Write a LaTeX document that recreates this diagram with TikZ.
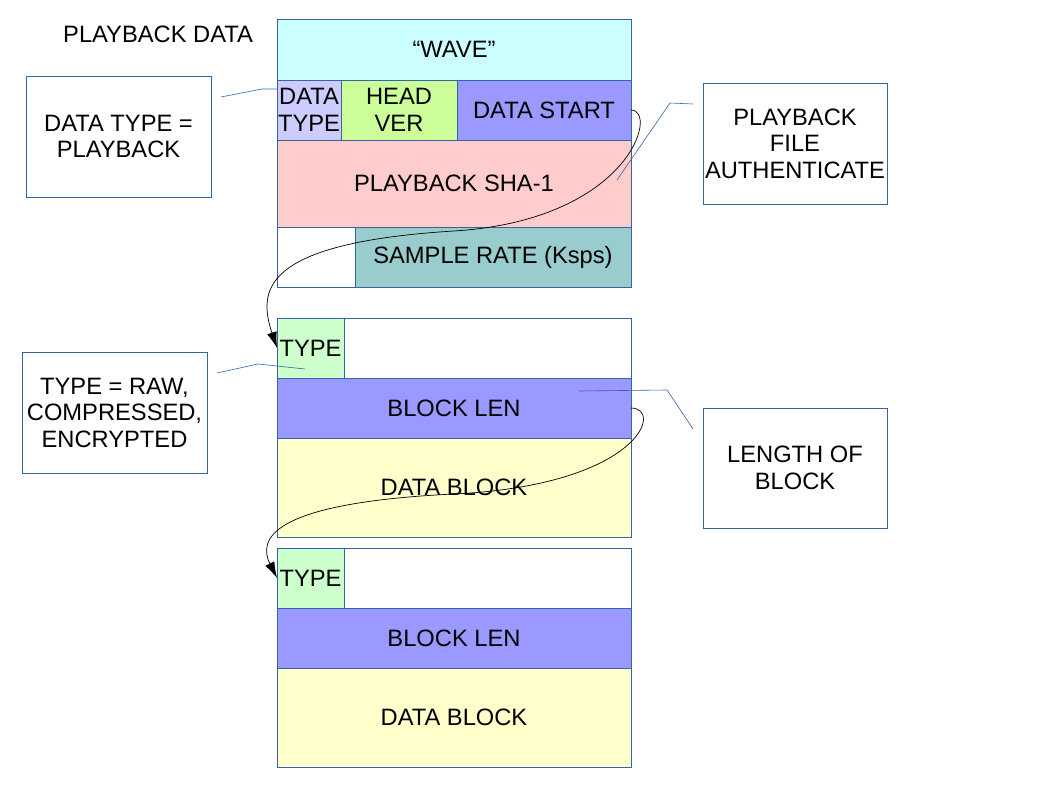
\documentclass[tikz,border=0pt]{standalone}
\usepackage{fontspec}
\setmainfont{Liberation Sans}
\usetikzlibrary{arrows.meta}
\definecolor{rim}{HTML}{3465A4}
\definecolor{wavefill}{HTML}{CCFFFF}
\definecolor{typefill}{HTML}{CCCCFF}
\definecolor{verfill}{HTML}{CCFF99}
\definecolor{lenfill}{HTML}{9999FF}
\definecolor{shafill}{HTML}{FFCCCC}
\definecolor{ratefill}{HTML}{99CCCC}
\definecolor{tagfill}{HTML}{CCFFCC}
\definecolor{blkfill}{HTML}{FFFFCC}

\begin{document}
\begin{tikzpicture}[x=1pt,y=-1pt,
	cell/.style={draw=rim,line width=0.8pt,anchor=north west,inner sep=0pt,outer sep=0pt,align=center,font=\fontsize{23.7}{26.5}\selectfont},
	note/.style={cell,fill=white},
	pin/.style={draw=rim,line width=0.6pt},
	flow/.style={black,line width=0.7pt,-{Latex[length=16pt,width=10pt]}}]
	\useasboundingbox (0,0) rectangle (1058,794);
	% Header
	\node[anchor=west,inner sep=0pt,font=\fontsize{23.7}{26.5}\selectfont] (title) at (63,34) {PLAYBACK DATA};
	\node[cell,fill=wavefill,minimum width=354pt,minimum height=61pt] (wave) at (277,19) {“WAVE”};
	\node[cell,fill=typefill,minimum width=64pt,minimum height=60pt] (dtype) at (277,80) {DATA\\TYPE};
	\node[cell,fill=verfill,minimum width=116pt,minimum height=60pt] (headver) at (341,80) {HEAD\\VER};
	\node[cell,fill=lenfill,minimum width=174pt,minimum height=60pt] (dstart) at (457,80) {DATA START};
	\node[cell,fill=shafill,minimum width=354pt,minimum height=87pt] (sha) at (277,140) {PLAYBACK SHA-1};
	\node[cell,fill=white,minimum width=78pt,minimum height=60pt] (spare) at (277,227) {};
	\node[cell,fill=ratefill,minimum width=276pt,minimum height=60pt] (rate) at (355,227) {SAMPLE RATE (Ksps)};
	% Blocks
	\foreach \i/\y in {1/318,2/548}{
		\node[cell,fill=white,minimum width=354pt,minimum height=60pt] (top\i) at (277,\y) {};
		\node[cell,fill=tagfill,minimum width=67pt,minimum height=60pt] (type\i) at (277,\y) {TYPE};
		\node[cell,fill=lenfill,minimum width=354pt,minimum height=60pt] (len\i) at (277,\y+60) {BLOCK LEN};
		\node[cell,fill=blkfill,minimum width=354pt,minimum height=99pt] (blk\i) at (277,\y+120) {DATA BLOCK};
	}
	% Notes
	\node[note,minimum width=185pt,minimum height=121pt] (dtnote) at (26,76) {DATA TYPE =\\PLAYBACK};
	\node[note,minimum width=184pt,minimum height=121pt] (authnote) at (703,83) {PLAYBACK\\FILE\\AUTHENTICATE};
	\node[note,minimum width=185pt,minimum height=121pt] (typenote) at (22,352) {TYPE = RAW,\\COMPRESSED,\\ENCRYPTED};
	\node[note,minimum width=184pt,minimum height=120pt] (lennote) at (703,408) {LENGTH OF\\BLOCK};
	% Pins
	\coordinate (dtpin) at (221,97);
	\coordinate (authpin) at (693,104);
	\coordinate (typepin) at (217,373);
	\coordinate (lenpin) at (693,429);
	\draw[pin] (dtpin) -- ++(41,-8) -- ++(15,0);
	\draw[pin] (authpin) -- ++(-23,-1) -- ++(-53,77);
	\draw[pin] (typepin) -- ++(41,-9) -- ++(47,5);
	\draw[pin] (lenpin) -- ++(-26,-39) -- ++(-88,1);
	% Links
	\coordinate (bend1) at (454,231);
	\coordinate (bend2) at (454,494);
	\draw[flow] (dstart.east) .. controls +(28,0) and +(176,-11) .. (bend1) .. controls +(-194,12) and +(-19,-57) .. (type1.west);
	\draw[flow] (len1.east) .. controls +(33,0) and +(186,-9) .. (bend2) .. controls +(-186,9) and +(-19,-38) .. (type2.west);
\end{tikzpicture}
\end{document}
